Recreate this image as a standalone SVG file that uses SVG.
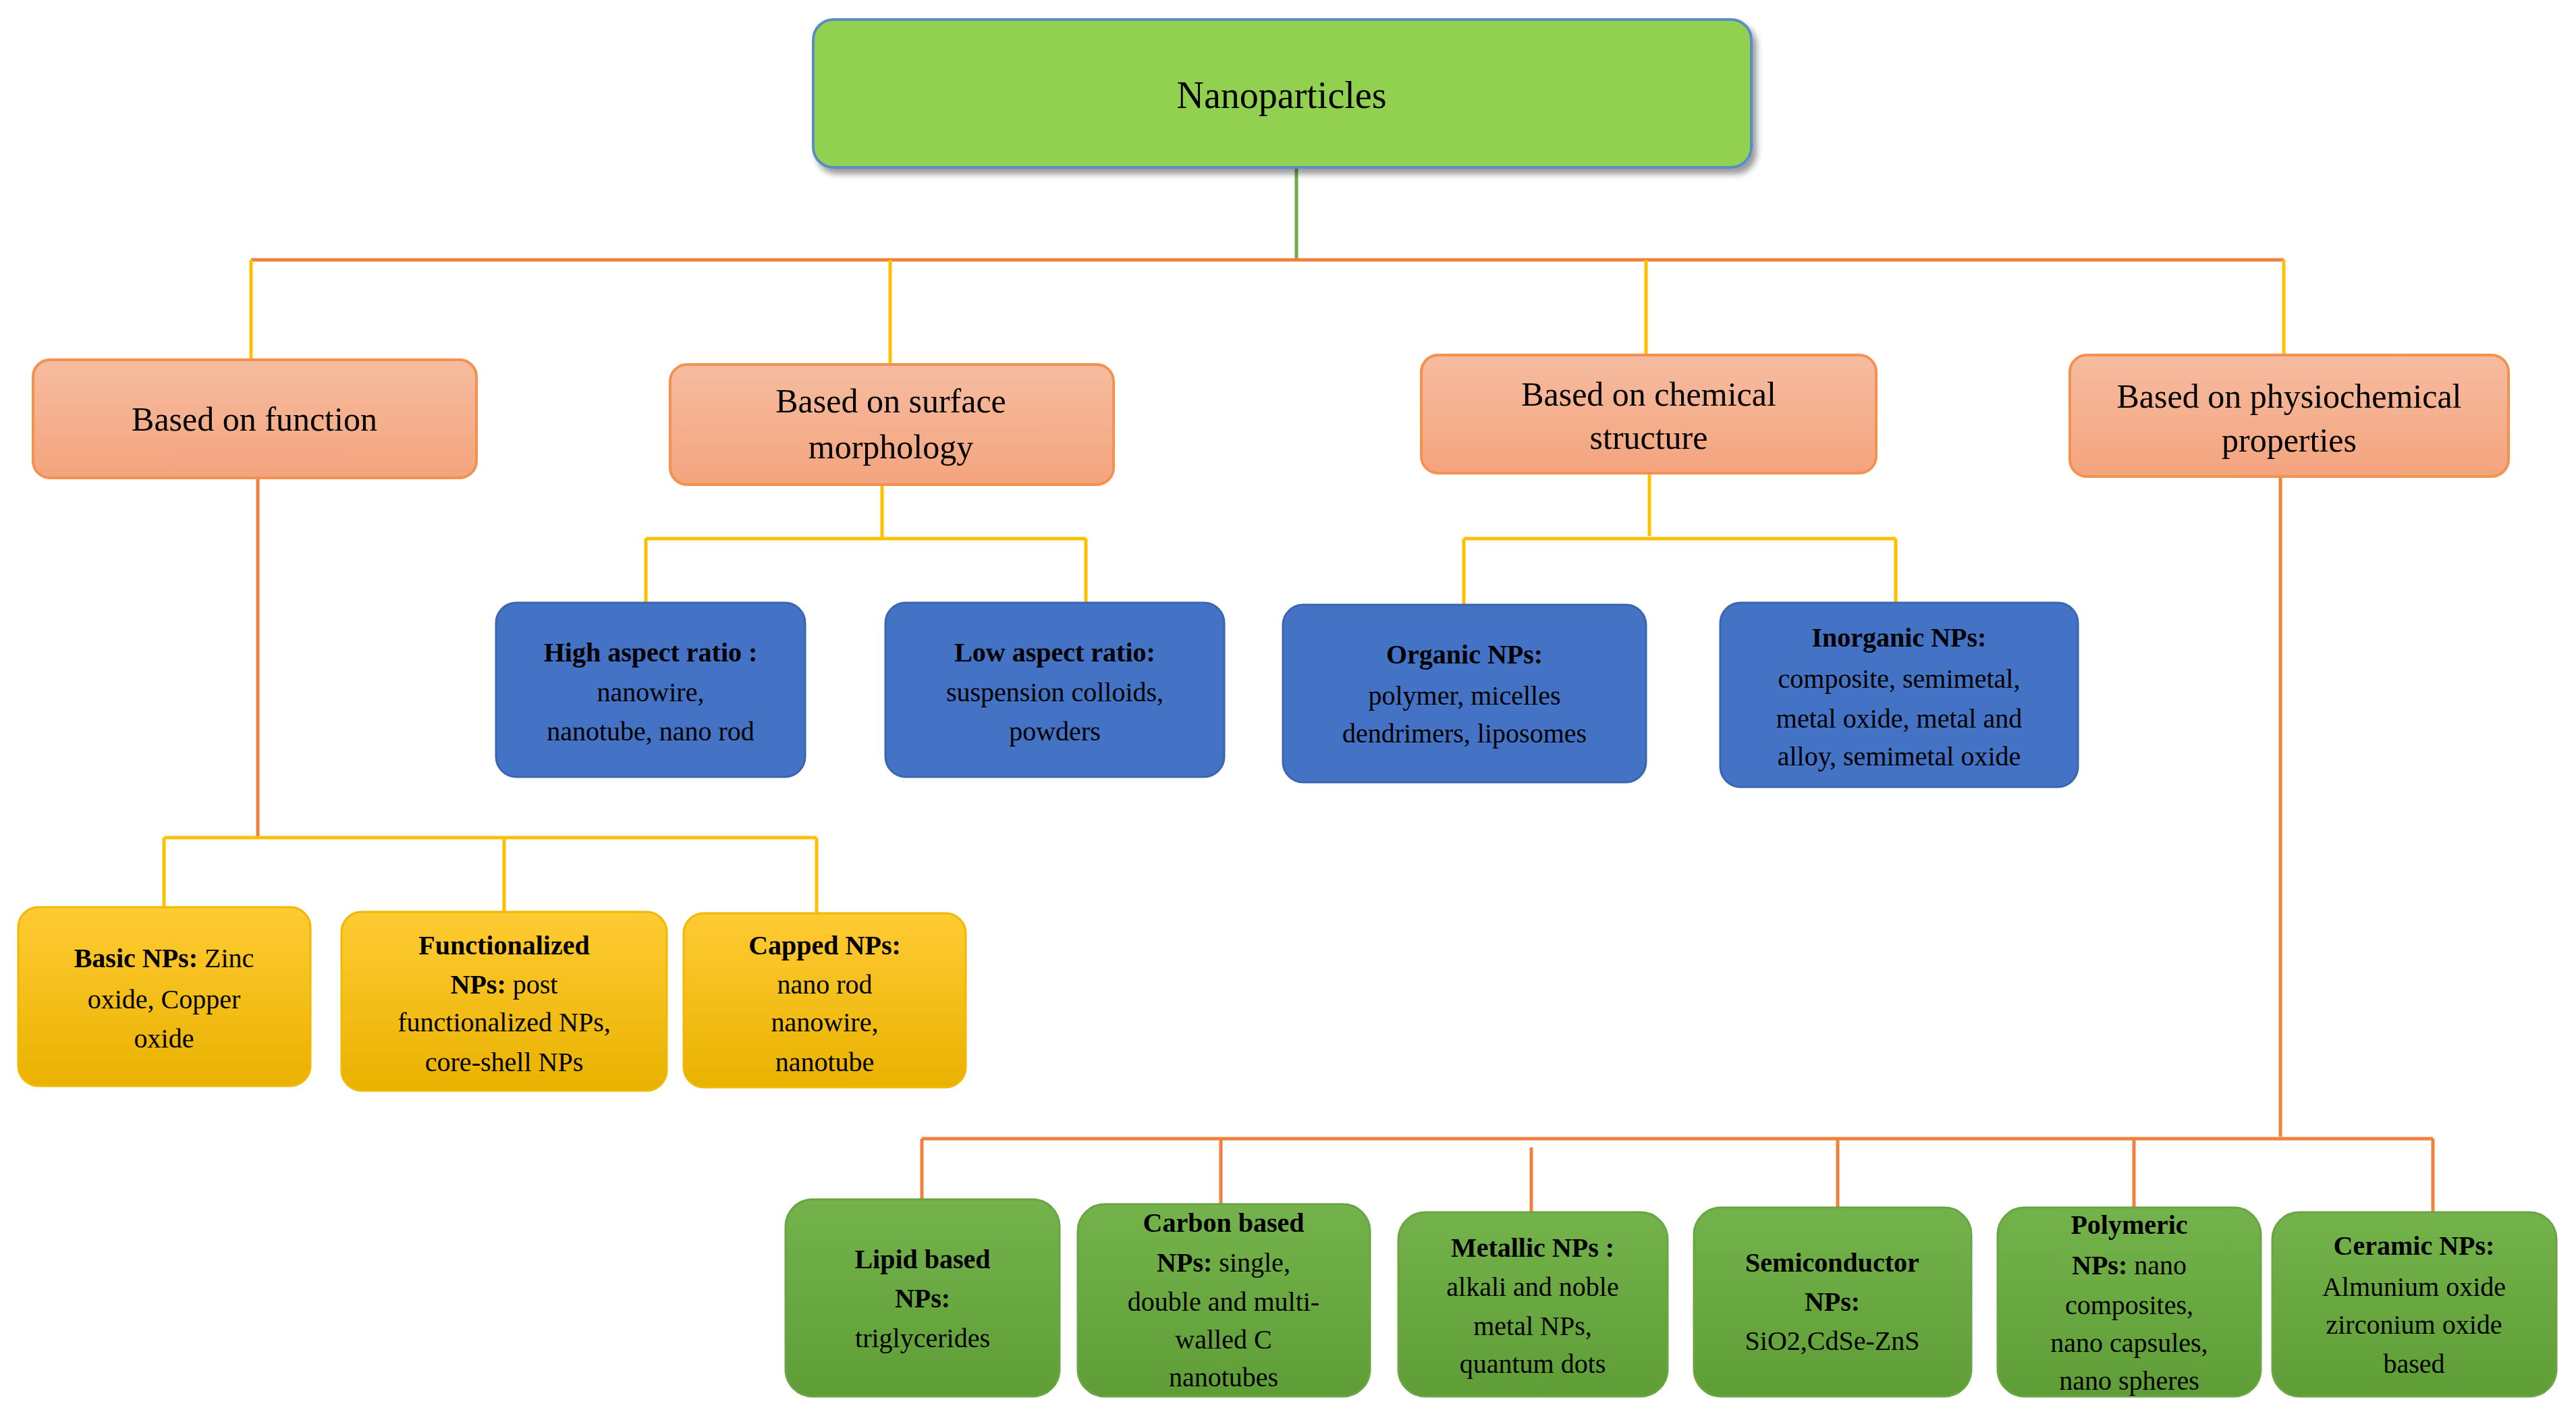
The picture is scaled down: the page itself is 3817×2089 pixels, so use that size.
<svg xmlns="http://www.w3.org/2000/svg" width="3817" height="2089" viewBox="0 0 3817 2089">
<style>
text{font-family:"Liberation Serif","Times New Roman",serif;text-anchor:middle;fill:#000}
.t1{font-size:56px}
.t2{font-size:50px}
.t3{font-size:40px}
.b{font-weight:bold}
.pk{fill:url(#gp);stroke:#F4914F;stroke-width:4}
.bl{fill:#4472C4;stroke:#3A65B0;stroke-width:3}
.yl{fill:url(#gy);stroke:#F2B800;stroke-width:3}
.gr{fill:url(#gg);stroke:#6AA544;stroke-width:3}
.or{stroke:#F0803C;stroke-width:5;fill:none}
.ye{stroke:#FFC000;stroke-width:5;fill:none}
</style>
<defs>
<linearGradient id="gp" x1="0" y1="0" x2="0" y2="1"><stop offset="0" stop-color="#F6BCA0"/><stop offset="1" stop-color="#F4A47D"/></linearGradient>
<linearGradient id="gy" x1="0" y1="0" x2="0" y2="1"><stop offset="0" stop-color="#FFCB33"/><stop offset="1" stop-color="#E9B200"/></linearGradient>
<linearGradient id="gg" x1="0" y1="0" x2="0" y2="1"><stop offset="0" stop-color="#74B24C"/><stop offset="1" stop-color="#5F9E36"/></linearGradient>
<filter id="sh"><feDropShadow dx="6" dy="8" stdDeviation="5" flood-opacity="0.4"/></filter>
</defs>
<g id="connectors">
<line x1="1921" y1="248" x2="1921" y2="385" stroke="#70AD47" stroke-width="5"/>
<line class="or" x1="372" y1="385" x2="3384" y2="385"/>
<path class="ye" d="M372 385V533M1319 385V540M2439 385V526M3384 385V526"/>
<path class="ye" d="M1307 718V798M957 798H1609M957 798V893M1609 798V893"/>
<path class="ye" d="M2444 701V794M2169 798H2809M2169 798V896M2809 798V893"/>
<path class="or" d="M382 708V1241"/>
<path class="ye" d="M243 1241H1210M243 1241V1344M747 1241V1351M1210 1241V1353"/>
<path class="or" d="M3379 706V1684M1366 1687H3605M1366 1687V1777M1809 1687V1784M2269 1700V1796M2723 1687V1789M3162 1687V1789M3605 1687V1796"/>
</g>
<g id="root"><rect x="1205" y="29" width="1390" height="219" rx="30" fill="#92D050" stroke="#5B8CC8" stroke-width="4" filter="url(#sh)"/><text class="t1" x="1899" y="160">Nanoparticles</text></g>
<g id="function"><rect class="pk" x="49" y="533" width="657" height="175" rx="25"/><text class="t2" x="377" y="638">Based on function</text></g>
<g id="morphology"><rect class="pk" x="993" y="540" width="657" height="178" rx="25"/><text class="t2" x="1320" y="611">Based on surface</text><text class="t2" x="1320" y="679">morphology</text></g>
<g id="chemical"><rect class="pk" x="2106" y="526" width="674" height="175" rx="25"/><text class="t2" x="2443" y="601">Based on chemical</text><text class="t2" x="2443" y="665">structure</text></g>
<g id="physio"><rect class="pk" x="3067" y="526" width="650" height="180" rx="25"/><text class="t2" x="3392" y="604">Based on physiochemical</text><text class="t2" x="3392" y="669">properties</text></g>
<g id="high"><rect class="bl" x="735" y="893" width="458" height="258" rx="30"/><text class="t3" x="964" y="980"><tspan class="b">High aspect ratio :</tspan></text><text class="t3" x="964" y="1039">nanowire,</text><text class="t3" x="964" y="1097">nanotube,  nano  rod</text></g>
<g id="low"><rect class="bl" x="1312" y="893" width="502" height="258" rx="30"/><text class="t3" x="1563" y="980" font-weight="bold">Low aspect ratio:</text><text class="t3" x="1563" y="1039">suspension  colloids,</text><text class="t3" x="1563" y="1097">powders</text></g>
<g id="organic"><rect class="bl" x="1901" y="896" width="538" height="263" rx="30"/><text class="t3" x="2170" y="983" font-weight="bold">Organic NPs:</text><text class="t3" x="2170" y="1044">polymer,  micelles</text><text class="t3" x="2170" y="1100">dendrimers,  liposomes</text></g>
<g id="inorganic"><rect class="bl" x="2549" y="893" width="530" height="273" rx="30"/><text class="t3" x="2814" y="958" font-weight="bold">Inorganic NPs:</text><text class="t3" x="2814" y="1019">composite,  semimetal,</text><text class="t3" x="2814" y="1078">metal  oxide,  metal  and</text><text class="t3" x="2814" y="1134">alloy,  semimetal  oxide</text></g>
<g id="basic"><rect class="yl" x="27" y="1344" width="433" height="265" rx="30"/><text class="t3" x="243" y="1433"><tspan class="b">Basic NPs:</tspan>  Zinc</text><text class="t3" x="243" y="1494">oxide,  Copper</text><text class="t3" x="243" y="1552">oxide</text></g>
<g id="functionalized"><rect class="yl" x="506" y="1351" width="482" height="265" rx="30"/><text class="t3" x="747" y="1414" font-weight="bold">Functionalized</text><text class="t3" x="747" y="1472"><tspan class="b">NPs:</tspan> post</text><text class="t3" x="747" y="1528">functionalized  NPs,</text><text class="t3" x="747" y="1587">core-shell  NPs</text></g>
<g id="capped"><rect class="yl" x="1013" y="1353" width="418" height="258" rx="30"/><text class="t3" x="1222" y="1414" font-weight="bold">Capped NPs:</text><text class="t3" x="1222" y="1472">nano rod</text><text class="t3" x="1222" y="1528">nanowire,</text><text class="t3" x="1222" y="1587">nanotube</text></g>
<g id="lipid"><rect class="gr" x="1164" y="1777" width="406" height="292" rx="40"/><text class="t3" x="1367" y="1879" font-weight="bold">Lipid based</text><text class="t3" x="1367" y="1937" font-weight="bold">NPs:</text><text class="t3" x="1367" y="1996">triglycerides</text></g>
<g id="carbon"><rect class="gr" x="1597" y="1784" width="433" height="285" rx="40"/><text class="t3" x="1813" y="1825" font-weight="bold">Carbon  based</text><text class="t3" x="1813" y="1884"><tspan class="b">NPs:</tspan> single,</text><text class="t3" x="1813" y="1942">double  and  multi-</text><text class="t3" x="1813" y="1998">walled  C</text><text class="t3" x="1813" y="2054">nanotubes</text></g>
<g id="metallic"><rect class="gr" x="2072" y="1796" width="399" height="273" rx="40"/><text class="t3" x="2271" y="1862" font-weight="bold">Metallic NPs :</text><text class="t3" x="2271" y="1920">alkali  and  noble</text><text class="t3" x="2271" y="1978">metal  NPs,</text><text class="t3" x="2271" y="2034">quantum  dots</text></g>
<g id="semiconductor"><rect class="gr" x="2510" y="1789" width="411" height="280" rx="40"/><text class="t3" x="2715" y="1884" font-weight="bold">Semiconductor</text><text class="t3" x="2715" y="1942" font-weight="bold">NPs:</text><text class="t3" x="2715" y="2000">SiO2,CdSe-ZnS</text></g>
<g id="polymeric"><rect class="gr" x="2960" y="1789" width="390" height="280" rx="40"/><text class="t3" x="3155" y="1828" font-weight="bold">Polymeric</text><text class="t3" x="3155" y="1888"><tspan class="b">NPs:</tspan> nano</text><text class="t3" x="3155" y="1947">composites,</text><text class="t3" x="3155" y="2003">nano  capsules,</text><text class="t3" x="3155" y="2059">nano  spheres</text></g>
<g id="ceramic"><rect class="gr" x="3367" y="1796" width="421" height="273" rx="40"/><text class="t3" x="3577" y="1859" font-weight="bold">Ceramic  NPs:</text><text class="t3" x="3577" y="1920">Almunium  oxide</text><text class="t3" x="3577" y="1976">zirconium  oxide</text><text class="t3" x="3577" y="2034">based</text></g>
</svg>
